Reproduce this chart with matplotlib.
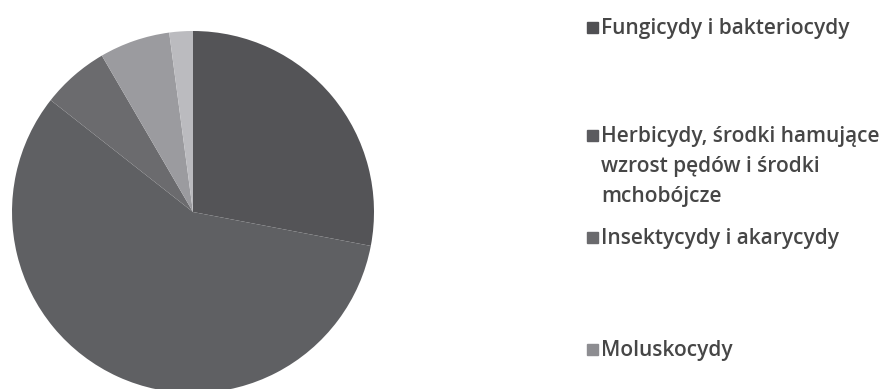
import matplotlib
matplotlib.use("Agg")
import matplotlib.pyplot as plt
from matplotlib.patches import Rectangle

plt.rcParams['font.family'] = ['Open Sans', 'DejaVu Sans']

# udział grup środków ochrony roślin (%)
values = [28.0, 57.6, 6.0, 6.3, 2.1]
colors = ['#545457', '#5f6063', '#6b6b6e', '#9b9b9f', '#bbbbbf']
labels = [
    'Fungicydy i bakteriocydy',
    'Herbicydy, środki hamujące\nwzrost pędów i środki\nmchobójcze',
    'Insektycydy i akarycydy',
    'Moluskocydy',
]
legend_y = [28, 136, 238, 350]   # środek pierwszej linii wpisu, px od góry
legend_colors = ['#505053', '#5b5b5f', '#6a6a6d', '#8d8d91']

W, H = 895, 389
fig = plt.figure(figsize=(W / 100, H / 100), dpi=100)

cx, cy, r = 193, 212, 181
ax = fig.add_axes([(cx - r) / W, (H - cy - r) / H, 2 * r / W, 2 * r / H])
ax.pie(values, colors=colors, startangle=90, counterclock=False,
       radius=1.0, wedgeprops=dict(linewidth=0))
ax.set_xlim(-1, 1)
ax.set_ylim(-1, 1)
ax.set_aspect('equal')
ax.axis('off')

fs = 15
line_h = 30
for lab, y, c in zip(labels, legend_y, legend_colors):
    fig.patches.append(Rectangle((587 / W, 1 - (y + 5) / H), 11 / W, 11 / H,
                                 transform=fig.transFigure, color=c))
    for i, line in enumerate(lab.split('\n')):
        fig.text(601 / W, 1 - (y + 6 + i * line_h) / H, line, fontsize=fs,
                 color='#464646', fontweight='semibold',
                 va='baseline', ha='left')

fig.savefig('out.png', dpi=100)
